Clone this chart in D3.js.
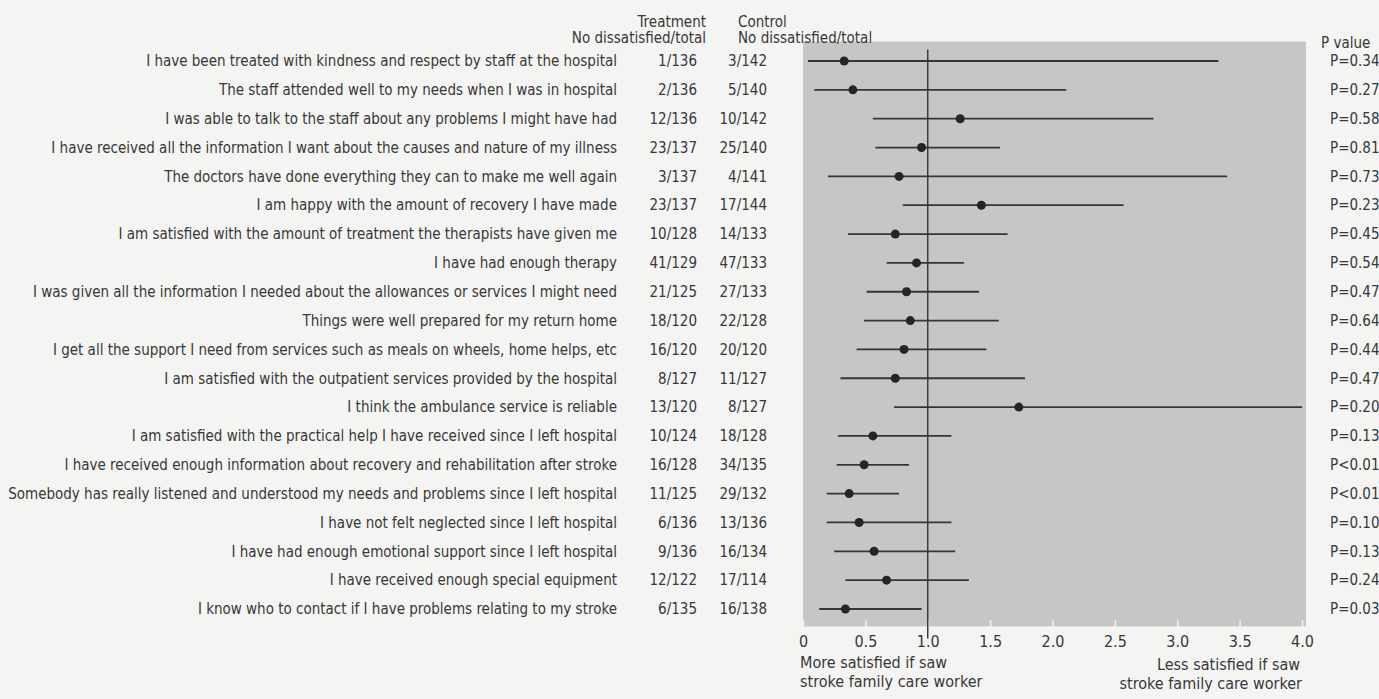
<!DOCTYPE html>
<html>
<head>
<meta charset="utf-8">
<script src="https://cdn.jsdelivr.net/npm/d3@7"></script>
<style>
  html, body { margin: 0; padding: 0; background: #f4f4f2; overflow: hidden; }
  svg { display: block; }
  text { font-family: "Liberation Sans Narrow", "Arial Narrow", "DejaVu Sans Condensed", sans-serif; fill: #383838; }
</style>
</head>
<body>
<div id="chart"></div>
<script>
const statements = [
  "I have been treated with kindness and respect by staff at the hospital",
  "The staff attended well to my needs when I was in hospital",
  "I was able to talk to the staff about any problems I might have had",
  "I have received all the information I want about the causes and nature of my illness",
  "The doctors have done everything they can to make me well again",
  "I am happy with the amount of recovery I have made",
  "I am satisfied with the amount of treatment the therapists have given me",
  "I have had enough therapy",
  "I was given all the information I needed about the allowances or services I might need",
  "Things were well prepared for my return home",
  "I get all the support I need from services such as meals on wheels, home helps, etc",
  "I am satisfied with the outpatient services provided by the hospital",
  "I think the ambulance service is reliable",
  "I am satisfied with the practical help I have received since I left hospital",
  "I have received enough information about recovery and rehabilitation after stroke",
  "Somebody has really listened and understood my needs and problems since I left hospital",
  "I have not felt neglected since I left hospital",
  "I have had enough emotional support since I left hospital",
  "I have received enough special equipment",
  "I know who to contact if I have problems relating to my stroke"
]
const treatment = ["1/136", "2/136", "12/136", "23/137", "3/137", "23/137", "10/128", "41/129", "21/125", "18/120",
  "16/120", "8/127", "13/120", "10/124", "16/128", "11/125", "6/136", "9/136", "12/122", "6/135"]
const control = ["3/142", "5/140", "10/142", "25/140", "4/141", "17/144", "14/133", "47/133", "27/133", "22/128",
  "20/120", "11/127", "8/127", "18/128", "34/135", "29/132", "13/136", "16/134", "17/114", "16/138"]
// odds ratio and 95% interval (row 13 runs off the right edge)
const estimate = [0.33, 0.40, 1.26, 0.95, 0.77, 1.43, 0.74, 0.91, 0.83, 0.86, 0.81, 0.74, 1.73, 0.56, 0.49, 0.37, 0.45, 0.57, 0.67, 0.34]
const lower = [0.04, 0.09, 0.56, 0.58, 0.20, 0.80, 0.36, 0.67, 0.51, 0.49, 0.43, 0.30, 0.73, 0.28, 0.27, 0.19, 0.19, 0.25, 0.34, 0.13]
const upper = [3.33, 2.11, 2.81, 1.58, 3.40, 2.57, 1.64, 1.29, 1.41, 1.57, 1.47, 1.78, 4.0, 1.19, 0.85, 0.77, 1.19, 1.22, 1.33, 0.95]
const pValues = ["P=0.34", "P=0.27", "P=0.58", "P=0.81", "P=0.73", "P=0.23", "P=0.45", "P=0.54", "P=0.47", "P=0.64",
  "P=0.44", "P=0.47", "P=0.20", "P=0.13", "P<0.01", "P<0.01", "P=0.10", "P=0.13", "P=0.24", "P=0.03"]
const xTicks = [0, 0.5, 1.0, 1.5, 2.0, 2.5, 3.0, 3.5, 4.0]

const width = 1379, height = 699
const fs = 15

const svg = d3.select('#chart').append('svg')
  .attr('width', width)
  .attr('height', height)

const x = d3.scaleLinear().domain([0, 4]).range([803, 1302])
const y = d3.scaleBand().domain(d3.range(statements.length)).range([46.6, 623.4])
const yc = i => y(i) + y.bandwidth() / 2

const panelTop = y.range()[0] - 5, panelBottom = y.range()[1] + 3

// grey panel
svg.append('rect')
  .attr('x', x(0))
  .attr('y', panelTop)
  .attr('width', x(4) - x(0) + 4)
  .attr('height', panelBottom - panelTop)
  .attr('fill', '#c6c6c5')

// axis, small white ticks pointing into the panel
const axis = svg.append('g')
  .attr('transform', `translate(0,${panelBottom})`)
  .call(d3.axisBottom(x).tickValues(xTicks).tickSize(-6).tickPadding(9)
    .tickFormat(d => d === 0 ? '0' : d3.format('.1f')(d)))
axis.select('.domain').remove()
axis.selectAll('.tick line').attr('stroke', '#f4f4f4').attr('stroke-width', 1.5)
axis.selectAll('.tick text').attr('font-size', 16).attr('font-family', null).attr('fill', '#444')

// line of no effect
svg.append('line')
  .attr('x1', x(1)).attr('x2', x(1))
  .attr('y1', panelTop + 8).attr('y2', panelBottom + 12)
  .attr('stroke', '#333').attr('stroke-width', 1.4)

const rows = svg.append('g').selectAll('g')
  .data(statements)
  .join('g')

rows.append('line')
  .attr('x1', (d, i) => x(lower[i]))
  .attr('x2', (d, i) => x(Math.min(upper[i], 4)))
  .attr('y1', (d, i) => yc(i))
  .attr('y2', (d, i) => yc(i))
  .attr('stroke', '#363636')
  .attr('stroke-width', 1.8)

rows.append('circle')
  .attr('cx', (d, i) => x(estimate[i]))
  .attr('cy', (d, i) => yc(i))
  .attr('r', 4.5)
  .attr('fill', '#252525')

rows.append('text')
  .attr('x', 617)
  .attr('y', (d, i) => yc(i))
  .attr('dy', '0.35em')
  .attr('text-anchor', 'end')
  .attr('font-size', fs)
  .text(d => d)

rows.append('text')
  .attr('x', 697)
  .attr('y', (d, i) => yc(i))
  .attr('dy', '0.35em')
  .attr('text-anchor', 'end')
  .attr('font-size', fs)
  .text((d, i) => treatment[i])

rows.append('text')
  .attr('x', 767)
  .attr('y', (d, i) => yc(i))
  .attr('dy', '0.35em')
  .attr('text-anchor', 'end')
  .attr('font-size', fs)
  .text((d, i) => control[i])

rows.append('text')
  .attr('x', 1330)
  .attr('y', (d, i) => yc(i))
  .attr('dy', '0.35em')
  .attr('font-size', fs)
  .text((d, i) => pValues[i])

// column headers
const header = svg.append('g')
header.append('text').attr('x', 706).attr('y', 27).attr('text-anchor', 'end').attr('font-size', fs).text('Treatment')
header.append('text').attr('x', 706).attr('y', 43).attr('text-anchor', 'end').attr('font-size', fs).text('No dissatisfied/total')
header.append('text').attr('x', 738).attr('y', 27).attr('font-size', fs).text('Control')
header.append('text').attr('x', 738).attr('y', 43).attr('font-size', fs).text('No dissatisfied/total')
header.append('text').attr('x', 1321).attr('y', 48).attr('font-size', fs).text('P value')

// direction notes under the axis
const note = svg.append('g')
note.append('text').attr('x', 800).attr('y', 668).attr('font-size', 16).text('More satisfied if saw')
note.append('text').attr('x', 800).attr('y', 687).attr('font-size', 16).text('stroke family care worker')
note.append('text').attr('x', 1300).attr('y', 670).attr('text-anchor', 'end').attr('font-size', 16).text('Less satisfied if saw')
note.append('text').attr('x', 1302).attr('y', 689).attr('text-anchor', 'end').attr('font-size', 16).text('stroke family care worker')
</script>
</body>
</html>
